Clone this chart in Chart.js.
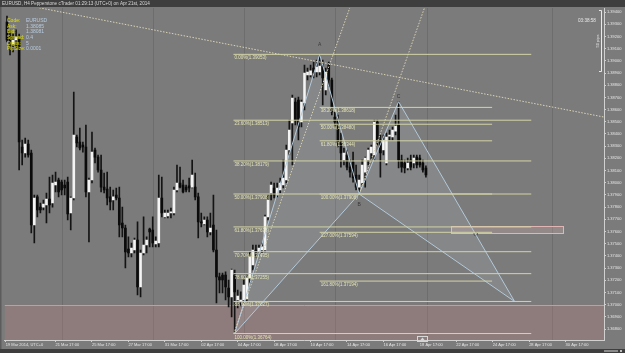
<!DOCTYPE html>
<html>
<head>
<meta charset="utf-8">
<title>EURUSD H4</title>
<script src="https://cdn.jsdelivr.net/npm/chart.js@4.4.1/dist/chart.umd.min.js"></script>
<style>
  html, body { margin: 0; padding: 0; background: #7b7b7b; }
  canvas { display: block; }
</style>
</head>
<body>
<canvas id="chart" width="625" height="353"></canvas>
<script>
// EURUSD H4 bars, bar index 0 = first visible bar (19 Mar 2014)
const opens = [
  1.39318, 1.39203, 1.39138, 1.39171, 1.39187, 1.38293, 1.38244, 1.38318, 1.38244, 1.37654,
  1.37884, 1.37801, 1.37801, 1.37818, 1.37867, 1.37834, 1.37982, 1.38023, 1.38006, 1.37982,
  1.38006, 1.37752, 1.37875, 1.38375, 1.38334, 1.38310, 1.38293, 1.37925, 1.38023, 1.38269,
  1.38211, 1.38105, 1.37965, 1.37949, 1.37884, 1.37859, 1.37900, 1.37875, 1.37670, 1.37629,
  1.37457, 1.37424, 1.37449, 1.37531, 1.37146, 1.37424, 1.37490, 1.37621, 1.37613, 1.37498,
  1.37506, 1.37875, 1.37720, 1.37728, 1.37752, 1.37752, 1.37941, 1.37998, 1.37982, 1.37965,
  1.37974, 1.37965, 1.37965, 1.37884, 1.37679, 1.37662, 1.37695, 1.37597, 1.37654, 1.37449,
  1.37228, 1.37244, 1.37244, 1.37137, 1.37064, 1.37244, 1.37039, 1.37023, 1.37039, 1.37047,
  1.37219, 1.37326, 1.37449, 1.37433, 1.37449, 1.37449, 1.37720, 1.37916, 1.37957, 1.37900,
  1.37941, 1.37982, 1.38023, 1.38269, 1.38490, 1.38662, 1.38679, 1.38498, 1.38654, 1.38884,
  1.38884, 1.38941, 1.38908, 1.38908, 1.38957, 1.38761, 1.38966, 1.38843, 1.38539, 1.38515,
  1.38326, 1.38187, 1.38228, 1.38129, 1.38170, 1.38064, 1.37965, 1.37998, 1.38088, 1.38187,
  1.38244, 1.38228, 1.38498, 1.38351, 1.38269, 1.38162, 1.38383, 1.38375, 1.38424, 1.38474,
  1.38187, 1.38162, 1.38121, 1.38187, 1.38162, 1.38211, 1.38203, 1.38162, 1.38121
];
const highs = [
  1.39367, 1.39253, 1.39220, 1.39253, 1.39220, 1.38351, 1.38367, 1.38351, 1.38269, 1.37900,
  1.37900, 1.37834, 1.37859, 1.37916, 1.38047, 1.38064, 1.38088, 1.38039, 1.38023, 1.38023,
  1.38047, 1.37884, 1.38744, 1.38392, 1.38449, 1.38334, 1.38474, 1.38039, 1.38416, 1.38285,
  1.38228, 1.38228, 1.38080, 1.38088, 1.37965, 1.37941, 1.37957, 1.37965, 1.37801, 1.37654,
  1.37556, 1.37506, 1.37547, 1.37679, 1.37449, 1.37720, 1.37556, 1.37629, 1.37720, 1.37556,
  1.38064, 1.38047, 1.37777, 1.37777, 1.37793, 1.37965, 1.38146, 1.38129, 1.38023, 1.37982,
  1.38039, 1.38187, 1.38080, 1.37916, 1.37752, 1.37720, 1.37720, 1.37752, 1.37900, 1.37613,
  1.37260, 1.37260, 1.37269, 1.37203, 1.37293, 1.37285, 1.37121, 1.37105, 1.37203, 1.37244,
  1.37433, 1.37490, 1.37490, 1.37490, 1.37506, 1.37736, 1.37900, 1.38006, 1.37998, 1.37998,
  1.38039, 1.38187, 1.38310, 1.38515, 1.38720, 1.38695, 1.38703, 1.38679, 1.38966, 1.38941,
  1.38966, 1.38990, 1.39007, 1.39053, 1.39007, 1.38941, 1.38990, 1.38859, 1.38580, 1.38556,
  1.38408, 1.38285, 1.38269, 1.38187, 1.38252, 1.38146, 1.38064, 1.38187, 1.38211, 1.38285,
  1.38310, 1.38515, 1.38515, 1.38392, 1.38392, 1.38408, 1.38433, 1.38457, 1.38556, 1.38665,
  1.38228, 1.38187, 1.38203, 1.38228, 1.38228, 1.38228, 1.38228, 1.38187, 1.38138
];
const lows = [
  1.39154, 1.39048, 1.39072, 1.39105, 1.38105, 1.38146, 1.38211, 1.38211, 1.37588, 1.37506,
  1.37720, 1.37752, 1.37777, 1.37670, 1.37752, 1.37801, 1.37925, 1.37884, 1.37900, 1.37900,
  1.37695, 1.37613, 1.37859, 1.38293, 1.38269, 1.38252, 1.37884, 1.37515, 1.37998, 1.38162,
  1.38088, 1.37925, 1.37916, 1.37818, 1.37777, 1.37777, 1.37859, 1.37556, 1.37556, 1.37301,
  1.37392, 1.37392, 1.37424, 1.37080, 1.37064, 1.37408, 1.37424, 1.37474, 1.37474, 1.37474,
  1.37474, 1.37720, 1.37711, 1.37711, 1.37711, 1.37736, 1.37925, 1.37957, 1.37916, 1.37925,
  1.37925, 1.37957, 1.37859, 1.37547, 1.37638, 1.37654, 1.37556, 1.37572, 1.37433, 1.37015,
  1.37096, 1.37096, 1.37039, 1.36982, 1.36900, 1.36764, 1.36974, 1.36990, 1.37015, 1.37023,
  1.37178, 1.37285, 1.37392, 1.37408, 1.37424, 1.37433, 1.37695, 1.37859, 1.37875, 1.37884,
  1.37916, 1.37957, 1.37998, 1.38228, 1.38146, 1.38474, 1.38351, 1.38457, 1.38597, 1.38843,
  1.38867, 1.38859, 1.38867, 1.38884, 1.38638, 1.38720, 1.38785, 1.38556, 1.38457, 1.38293,
  1.38129, 1.38146, 1.38105, 1.38047, 1.38006, 1.37941, 1.37908, 1.37982, 1.37965, 1.38146,
  1.38187, 1.38187, 1.38310, 1.38047, 1.38228, 1.38146, 1.38351, 1.38351, 1.38392, 1.38121,
  1.38088, 1.38080, 1.38105, 1.38105, 1.38121, 1.38121, 1.38129, 1.38088, 1.38047
];
const closes = [
  1.39171, 1.39138, 1.39171, 1.39195, 1.38334, 1.38244, 1.38318, 1.38228, 1.37654, 1.37875,
  1.37777, 1.37777, 1.37826, 1.37867, 1.37818, 1.37998, 1.38006, 1.37925, 1.37941, 1.37957,
  1.37744, 1.37875, 1.38392, 1.38326, 1.38285, 1.38293, 1.37925, 1.38023, 1.38252, 1.38211,
  1.38105, 1.37965, 1.37941, 1.37875, 1.37843, 1.37884, 1.37875, 1.37654, 1.37629, 1.37433,
  1.37424, 1.37465, 1.37531, 1.37146, 1.37424, 1.37490, 1.37531, 1.37597, 1.37506, 1.37523,
  1.37875, 1.37752, 1.37752, 1.37752, 1.37761, 1.37941, 1.37998, 1.37965, 1.37925, 1.37941,
  1.37957, 1.38064, 1.37884, 1.37679, 1.37670, 1.37695, 1.37597, 1.37629, 1.37449, 1.37228,
  1.37203, 1.37203, 1.37146, 1.37064, 1.37285, 1.37105, 1.37072, 1.37039, 1.37162, 1.37219,
  1.37392, 1.37449, 1.37433, 1.37465, 1.37474, 1.37720, 1.37859, 1.37982, 1.37900, 1.37957,
  1.37998, 1.38039, 1.38269, 1.38433, 1.38695, 1.38515, 1.38457, 1.38662, 1.38900, 1.38908,
  1.38917, 1.38900, 1.38949, 1.38957, 1.38859, 1.38908, 1.38843, 1.38580, 1.38498, 1.38326,
  1.38244, 1.38244, 1.38129, 1.38088, 1.38039, 1.37965, 1.38023, 1.38146, 1.38203, 1.38269,
  1.38293, 1.38498, 1.38351, 1.38244, 1.38351, 1.38375, 1.38392, 1.38433, 1.38465, 1.38187,
  1.38129, 1.38121, 1.38162, 1.38129, 1.38203, 1.38146, 1.38146, 1.38105, 1.38064
];

// axis ticks
const yTicks = [1.368, 1.369, 1.370, 1.371, 1.372, 1.373, 1.374, 1.375, 1.376, 1.377, 1.378,
  1.379, 1.380, 1.381, 1.382, 1.383, 1.384, 1.385, 1.386, 1.387, 1.388, 1.389, 1.390, 1.391,
  1.392, 1.393, 1.394];
const xTickIdx = [-0.39, 16, 28, 40, 52, 64, 76, 88, 100, 112, 124, 136, 148, 160, 172, 184];
const xTickLabels = ['19 Mar 2014, UTC+0', '21 Mar 17:00', '25 Mar 17:00', '27 Mar 17:00',
  '31 Mar 17:00', '02 Apr 17:00', '04 Apr 17:00', '08 Apr 17:00', '10 Apr 17:00',
  '14 Apr 17:00', '16 Apr 17:00', '18 Apr 17:00', '22 Apr 17:00', '24 Apr 17:00',
  '28 Apr 17:00', '30 Apr 17:00'];
const weekSeps = [18, 48, 78, 108, 138.3, 179.5];

// fibonacci retracement X-A (left) and A-B extension (right)
const fibLeftLevels = ['0.00%', '23.60%', '38.20%', '50.00%', '61.80%', '70.70%', '78.60%', '88.60%', '100.00%'];
const fibLeftPrices = [1.39053, 1.38513, 1.38179, 1.37908, 1.37638, 1.37435, 1.37255, 1.37027, 1.36764];
const fibLeftSpan = [74.6, 172.7];
const fibRightLevels = ['38.20%', '50.00%', '61.80%', '100.00%', '127.00%', '161.80%'];
const fibRightPrices = [1.38618, 1.38480, 1.38344, 1.37908, 1.37594, 1.37194];
const fibRightSpan = [103, 159.8];

// XABCD pattern
const patternNames = ['X', 'A', 'B', 'C', 'D'];
const patternIdx = [75, 103, 116, 129, 167.2];
const patternPrices = [1.36764, 1.39053, 1.37908, 1.38665, 1.37027];
const markerIdx = [154.4];
const markerPrices = [1.37580];

// dotted trend lines [startIdx, startPrice, endIdx, endPrice]
const trendLines = [
  [5.8, 1.39458, 196.66, 1.38539],
  [74.7, 1.36764, 112.9, 1.39433],
  [116, 1.37908, 137.5, 1.39433]
];

// zones
const zoneTop = 1.37000;
const boxIdx = [146.2, 183.2];
const boxPrices = [1.37645, 1.37588];

const infoLabels = ['Code:', 'Ask:', 'Bid:', 'Spread:', 'Digits:', 'PipSize:'];
const infoValues = ['EURUSD', '1.38085', '1.38081', '0.4', '5', '0.0001'];

const xMin = -0.72, xMax = 196.66;
const yMin = 1.36711, yMax = 1.39433;
const FONT = "'Liberation Sans', 'DejaVu Sans', sans-serif";

const idx = opens.map((_, i) => i);
const pt = (i, k) => ({ x: patternIdx[i], y: patternPrices[i] });

function seg(points, color, dash) {
  return {
    type: 'line', data: points, borderColor: color, borderWidth: 1,
    borderDash: dash || [], pointRadius: 0, fill: false, tension: 0
  };
}

const lineSets = [];
fibLeftPrices.forEach(p => lineSets.push(seg([{ x: fibLeftSpan[0], y: p }, { x: fibLeftSpan[1], y: p }], '#d3d4a6')));
fibRightPrices.forEach(p => lineSets.push(seg([{ x: fibRightSpan[0], y: p }, { x: fibRightSpan[1], y: p }], '#d3d4a6')));
trendLines.forEach(t => lineSets.push(seg([{ x: t[0], y: t[1] }, { x: t[2], y: t[3] }], '#d9d3b6', [1.5, 1.5])));
lineSets.push(seg([pt(0), pt(1), pt(2), pt(0)], '#b3c9da'));
lineSets.push(seg([pt(2), pt(3), pt(4), pt(2)], '#b3c9da'));

const marker = {
  type: 'line', showLine: false,
  data: markerIdx.map((v, i) => ({ x: v, y: markerPrices[i] })),
  pointRadius: 1.8, pointBorderWidth: 0.8, pointBorderColor: '#454545', pointBackgroundColor: 'rgba(0,0,0,0)'
};

const bodies = {
  type: 'bar', grouped: false, barThickness: 2, minBarLength: 1,
  data: idx.map(i => ({ x: i, y: [opens[i], closes[i]] })),
  backgroundColor: idx.map(i => closes[i] >= opens[i] ? '#f4f4f4' : '#0b0b0b')
};
const wicks = {
  type: 'bar', grouped: false, barThickness: 1,
  data: idx.map(i => ({ x: i, y: [lows[i], highs[i]] })),
  backgroundColor: '#141414'
};

const decor = {
  id: 'decor',
  beforeDraw(chart) {
    const { ctx, chartArea: a, scales: { x } } = chart;
    ctx.save();
    ctx.fillStyle = '#7b7b7b';
    ctx.fillRect(0, 0, chart.width, chart.height);
    ctx.fillStyle = '#3e3e3e';
    ctx.fillRect(0, 0, chart.width, 7);
    ctx.fillRect(0, 349, chart.width, 4);
    ctx.fillStyle = '#5c5c5c';
    ctx.fillRect(0, 7, 1.5, 342);
    ctx.strokeStyle = '#6d6d6d';
    ctx.lineWidth = 1;
    weekSeps.forEach(v => {
      const px = Math.round(x.getPixelForValue(v)) + 0.5;
      ctx.beginPath();
      ctx.moveTo(px, a.top);
      ctx.lineTo(px, a.bottom);
      ctx.stroke();
    });
    ctx.restore();
  },
  beforeDatasetsDraw(chart) {
    const { ctx, chartArea: a, scales: { x, y } } = chart;
    ctx.save();
    // support zone at the bottom
    const zt = y.getPixelForValue(zoneTop);
    ctx.fillStyle = 'rgba(195,125,125,0.28)';
    ctx.fillRect(a.left, zt, a.right - a.left, a.bottom - zt);
    ctx.strokeStyle = '#bfa0a0';
    ctx.beginPath();
    ctx.moveTo(a.left, Math.round(zt) + 0.5);
    ctx.lineTo(a.right, Math.round(zt) + 0.5);
    ctx.stroke();
    // target box
    const bx0 = x.getPixelForValue(boxIdx[0]), bx1 = x.getPixelForValue(boxIdx[1]);
    const by0 = y.getPixelForValue(boxPrices[0]), by1 = y.getPixelForValue(boxPrices[1]);
    ctx.fillStyle = 'rgba(235,185,185,0.22)';
    ctx.fillRect(bx0, by0, bx1 - bx0, by1 - by0);
    ctx.strokeStyle = '#e2b5b5';
    ctx.strokeRect(Math.round(bx0) + 0.5, Math.round(by0) + 0.5, Math.round(bx1 - bx0), Math.round(by1 - by0));
    // pattern triangles
    ctx.fillStyle = 'rgba(205,218,232,0.12)';
    [[0, 1, 2], [2, 3, 4]].forEach(tri => {
      ctx.beginPath();
      tri.forEach((k, j) => {
        const px = x.getPixelForValue(patternIdx[k]), py = y.getPixelForValue(patternPrices[k]);
        if (j === 0) ctx.moveTo(px, py); else ctx.lineTo(px, py);
      });
      ctx.closePath();
      ctx.fill();
    });
    ctx.restore();
  },
  afterDatasetsDraw(chart) {
    const { ctx, scales: { x, y } } = chart;
    ctx.save();
    ctx.font = `4.5px ${FONT}`;
    ctx.fillStyle = '#e4e4b6';
    ctx.textBaseline = 'top';
    ctx.textAlign = 'left';
    fibLeftPrices.forEach((p, i) => {
      ctx.fillText(`${fibLeftLevels[i]}(${p.toFixed(5)})`, x.getPixelForValue(fibLeftSpan[0]) + 1, y.getPixelForValue(p) + 1.5);
    });
    fibRightPrices.forEach((p, i) => {
      ctx.fillText(`${fibRightLevels[i]}(${p.toFixed(5)})`, x.getPixelForValue(fibRightSpan[0]) + 1, y.getPixelForValue(p) + 1.5);
    });
    ctx.font = `5px ${FONT}`;
    ctx.fillStyle = '#383838';
    ctx.textAlign = 'center';
    ctx.textBaseline = 'middle';
    const offs = [0, -10, 11, -5, 0];
    [1, 2, 3].forEach(k => {
      ctx.fillText(patternNames[k], x.getPixelForValue(patternIdx[k]), y.getPixelForValue(patternPrices[k]) + offs[k]);
    });
    ctx.restore();
  },
  afterDraw(chart) {
    const { ctx } = chart;
    ctx.save();
    ctx.textAlign = 'left';
    ctx.textBaseline = 'middle';
    ctx.font = `4.6px ${FONT}`;
    ctx.fillStyle = '#dadada';
    ctx.fillText('EURUSD, H4 Pepperstone cTrader 01:29:13 (UTC+0) on Apr 21st, 2014', 2, 3.8);
    ctx.font = `5px ${FONT}`;
    infoLabels.forEach((t, i) => {
      const yy = 20.7 + i * 5.67;
      ctx.fillStyle = '#e2e000';
      ctx.fillText(t, 7, yy);
      ctx.fillStyle = '#b8cce0';
      ctx.fillText(infoValues[i], 26, yy);
    });
    ctx.fillStyle = '#e8e8e8';
    ctx.font = `4.6px ${FONT}`;
    ctx.fillText('03:38:58', 578, 21);
    // 50 pips ruler
    ctx.strokeStyle = '#e8e8e8';
    ctx.lineWidth = 1;
    ctx.beginPath();
    ctx.moveTo(599, 10.5); ctx.lineTo(601.5, 10.5); ctx.lineTo(601.5, 71.5); ctx.lineTo(599, 71.5);
    ctx.stroke();
    ctx.translate(597.5, 41);
    ctx.rotate(-Math.PI / 2);
    ctx.textAlign = 'center';
    ctx.font = `4px ${FONT}`;
    ctx.fillText('50 pips', 0, 0);
    ctx.setTransform(1, 0, 0, 1, 0, 0);
    // current bar marker on time axis
    ctx.strokeStyle = '#d8d8d8';
    ctx.strokeRect(417.5, 336.5, 10, 5);
    ctx.fillStyle = '#d8d8d8';
    ctx.beginPath();
    ctx.moveTo(420, 340.5); ctx.lineTo(422.5, 337.5); ctx.lineTo(425, 340.5);
    ctx.fill();
    // scroll thumb
    ctx.fillStyle = '#8a8a8a';
    ctx.fillRect(604, 350, 14, 2);
    ctx.fillStyle = '#bdbdbd';
    ctx.fillRect(620, 350, 2, 2);
    ctx.restore();
  }
};

new Chart(document.getElementById('chart'), {
  type: 'bar',
  data: { datasets: [...lineSets, marker, bodies, wicks] },
  options: {
    responsive: false,
    animation: false,
    devicePixelRatio: 1,
    layout: { padding: { left: 2, top: 8, right: 0, bottom: 0 } },
    plugins: { legend: { display: false }, tooltip: { enabled: false } },
    scales: {
      x: {
        type: 'linear', min: xMin, max: xMax, offset: false,
        afterBuildTicks: s => { s.ticks = xTickIdx.map(v => ({ value: v })); },
        afterFit: s => { s.height = 13; },
        grid: { drawOnChartArea: false, tickLength: 2, color: '#d0d0d0', offset: false },
        border: { color: '#d0d0d0' },
        ticks: {
          autoSkip: false, maxRotation: 0, minRotation: 0, align: 'start', padding: 0,
          color: '#e6e6e6', font: { family: FONT, size: 4 },
          callback: v => { const k = xTickIdx.indexOf(v); return k < 0 ? '' : xTickLabels[k]; }
        }
      },
      y: {
        type: 'linear', position: 'right', min: yMin, max: yMax,
        afterBuildTicks: s => { s.ticks = yTicks.map(v => ({ value: v })); },
        afterFit: s => { s.width = 21; },
        grid: { drawOnChartArea: false, tickLength: 2, color: '#d0d0d0' },
        border: { color: '#d0d0d0' },
        ticks: { padding: 1, color: '#e6e6e6', font: { family: FONT, size: 4 }, callback: v => v.toFixed(5) }
      }
    }
  },
  plugins: [decor]
});
</script>
</body>
</html>
